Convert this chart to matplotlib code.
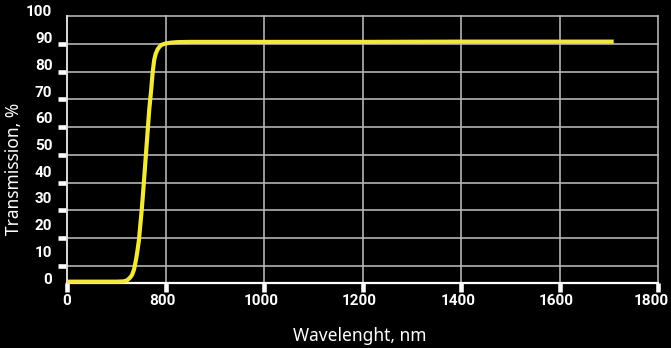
import matplotlib
matplotlib.use("Agg")
import matplotlib.pyplot as plt
from matplotlib.transforms import ScaledTranslation

wavelength = [600, 650, 700, 715, 722, 728, 732, 736, 740, 743, 746, 749, 752, 755,
              761, 767, 771, 774, 777, 780, 784, 788, 792, 800, 810, 823, 850,
              1000, 1200, 1400, 1600, 1710]
transmission = [0.5, 0.5, 0.5, 0.6, 1.0, 2.0, 3.0, 5.0, 8.6, 12, 16, 22, 28, 35,
                50, 65, 72.5, 79, 83.5, 85.8, 87.5, 88.5, 89.2, 89.7, 90.0, 90.2, 90.3,
                90.3, 90.3, 90.4, 90.4, 90.4]

x_ticks = [600, 800, 1000, 1200, 1400, 1600, 1800]
x_tick_labels = ["0", "800", "1000", "1200", "1400", "1600", "1800"]
y_ticks = [0, 10, 20, 30, 40, 50, 60, 70, 80, 90, 100]
y_tick_labels = [str(v) for v in y_ticks]
y_grid = [6.4, 16.8, 27.2, 37.6, 48, 58.4, 68.8, 79.2, 89.6, 100]

W, H = 671, 348
fig = plt.figure(figsize=(W / 100, H / 100), dpi=100, facecolor="black")
ax = fig.add_axes([67 / W, (H - 283) / H, (658 - 67) / W, (283 - 16) / H])
ax.set_facecolor("black")

ax.set_xlim(600, 1800)
ax.set_ylim(0, 100)

grid_color = "#b4b4b4"
for g in y_grid:
    ax.axhline(g, color=grid_color, lw=1.2, zorder=1, clip_on=False)
for g in x_ticks[1:]:
    ax.axvline(g, color=grid_color, lw=1.2, zorder=1, clip_on=False)

ax.plot(wavelength, transmission, color="#f3e93a", lw=3.0, zorder=3,
        solid_capstyle="butt", clip_on=False)

for s in ["top", "right"]:
    ax.spines[s].set_visible(False)
ax.spines["bottom"].set_color("white")
ax.spines["bottom"].set_linewidth(1.6)
ax.spines["left"].set_color("#dddddd")
ax.spines["left"].set_linewidth(1.4)

tick_font = dict(family="Roboto", weight="bold", size=11)
ax.set_xticks(x_ticks)
ax.set_xticklabels(x_tick_labels, color="white", **tick_font)
ax.tick_params(axis="x", length=6.5, width=3.3, color="white", pad=1.5)
xlabels = ax.get_xticklabels()
for i, lbl in enumerate(xlabels[1:], start=1):
    dx = -0.07 if i == len(xlabels) - 1 else -0.03
    lbl.set_transform(lbl.get_transform() + ScaledTranslation(dx, 0, fig.dpi_scale_trans))

ax.set_yticks(y_ticks)
ax.set_yticklabels(y_tick_labels, color="white", **tick_font)
ax.tick_params(axis="y", which="major", length=0, pad=10.5)
ax.set_yticks(y_grid, minor=True)
ax.tick_params(axis="y", which="minor", length=6.5, width=3.3, color="white")

offset = ScaledTranslation(0, 0.05, fig.dpi_scale_trans)
for lbl in ax.get_yticklabels():
    lbl.set_transform(lbl.get_transform() + offset)

fig.text(360 / W, 1 - 336 / H, "Wavelenght, nm", color="white", ha="center",
         va="center", family="Noto Sans", size=12.5)
fig.text(14 / W, 1 - 169 / H, "Transmission, %", color="white", ha="center",
         va="center", rotation=90, family="Noto Sans", size=12.5)

fig.savefig("out.png", dpi=100, facecolor="black")
